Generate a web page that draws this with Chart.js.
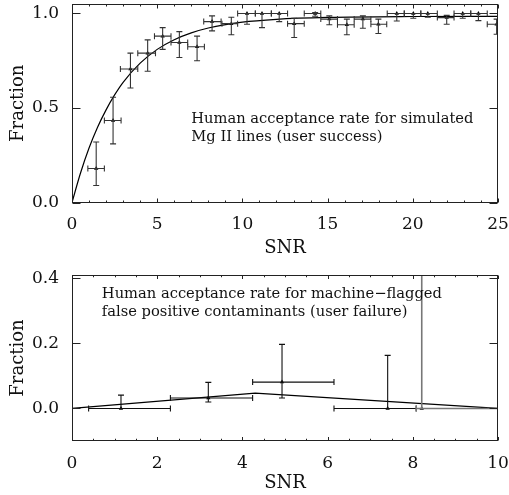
<!DOCTYPE html>
<html>
<head>
<meta charset="utf-8">
<script src="https://cdn.jsdelivr.net/npm/chart.js@4"></script>
<style>
    body { margin: 0; background: #fff; }
    #wrap { position: relative; width: 509px; height: 495px; }
    canvas { position: absolute; left: 0; }
</style>
</head>
<body>
<div id="wrap">
    <canvas id="topChart" width="509" height="260" style="top:0"></canvas>
    <canvas id="bottomChart" width="509" height="235" style="top:260px"></canvas>
</div>
<script>
// Painel de cima: simulated Mg II lines (user success)
const successSnr    = [1.42, 2.41, 3.43, 4.44, 5.32, 6.30, 7.34, 8.22, 9.35, 10.27, 11.15, 12.16, 13.04, 14.27, 15.10, 16.13, 17.07, 17.98, 19.06, 20.03, 20.88, 21.99, 22.93, 23.85, 24.92];
const successFrac   = [0.18, 0.434, 0.706, 0.79, 0.88, 0.846, 0.824, 0.957, 0.946, 1.0, 1.0, 1.0, 0.946, 1.0, 0.97, 0.94, 0.97, 0.943, 1.0, 1.0, 1.0, 0.978, 1.0, 1.0, 0.943];
const successSnrLo  = [0.93, 1.90, 2.84, 3.86, 4.84, 5.81, 6.79, 7.73, 8.80, 9.72, 10.76, 11.70, 12.65, 13.63, 14.60, 15.58, 16.56, 17.54, 18.50, 19.50, 20.47, 21.44, 22.42, 23.40, 24.37];
const successSnrHi  = [1.90, 2.88, 3.86, 4.90, 5.81, 6.79, 7.77, 8.75, 9.72, 10.76, 11.70, 12.65, 13.63, 14.60, 15.58, 16.56, 17.54, 18.47, 19.50, 20.47, 21.44, 22.42, 23.40, 24.37, 25.40];
const successFracLo = [0.09, 0.31, 0.606, 0.694, 0.81, 0.767, 0.75, 0.908, 0.887, 0.943, 0.925, 0.957, 0.873, 0.985, 0.94, 0.887, 0.922, 0.894, 0.96, 0.975, 0.98, 0.943, 0.975, 0.962, 0.89];
const successFracHi = [0.32, 0.557, 0.79, 0.86, 0.925, 0.904, 0.88, 0.987, 0.98, 1.0, 1.0, 1.0, 0.975, 1.005, 0.987, 0.97, 0.987, 0.97, 1.0, 1.0, 1.0, 0.99, 1.0, 1.0, 0.97];

// curva ajustada
const fitSnr  = [0, 0.5, 1, 1.5, 2, 2.5, 3, 4, 5, 6, 7, 8, 10, 12, 15, 20, 25];
const fitFrac = [0, 0.156, 0.288, 0.398, 0.49, 0.569, 0.636, 0.737, 0.81, 0.861, 0.897, 0.923, 0.954, 0.969, 0.979, 0.984, 0.985];

// Painel de baixo: machine-flagged false positives (user failure)
const contamSnr    = [1.15, 3.20, 4.93, 7.41, 8.21];
const contamFrac   = [0.0, 0.032, 0.081, 0.0, 0.0];
const contamSnrLo  = [0.39, 2.31, 4.24, 6.15, 8.08];
const contamSnrHi  = [2.31, 4.24, 6.15, 8.08, 10.3];
const contamFracLo = [0.0, 0.02, 0.032, 0.0, 0.0];
const contamFracHi = [0.041, 0.08, 0.197, 0.163, 1.0];

const modelSnr  = [0, 4.3, 10];
const modelFrac = [0, 0.047, 0];

// ticks
const topXTicks    = [0, 5, 10, 15, 20, 25];
const topYTicks    = [0, 0.5, 1.0];
const bottomXTicks = [0, 2, 4, 6, 8, 10];
const bottomYTicks = [0, 0.2, 0.4];

const FONT = "'DejaVu Serif', serif";
const INK = '#111';

const toPoints = (xs, ys) => xs.map((x, i) => ({ x: x, y: ys[i] }));

// caixa com ticks para dentro nos quatro lados (estilo IDL)
const boxTicks = {
    id: 'boxTicks',
    afterDraw(chart, args, o) {
        const { ctx, chartArea: a, scales: { x, y } } = chart;
        ctx.save();
        ctx.strokeStyle = '#222';
        ctx.lineWidth = 1;
        const L = Math.round(a.left) + 0.5, R = Math.round(a.right) - 0.5;
        const T = Math.round(a.top) + 0.5, B = Math.round(a.bottom) - 0.5;
        ctx.strokeRect(L, T, R - L, B - T);
        ctx.beginPath();
        const first = (min, step) => Math.ceil(min / step - 1e-6) * step;
        for (let v = first(x.min, o.xMinor); v <= x.max + 1e-6; v += o.xMinor) {
            const px = Math.round(x.getPixelForValue(v)) + 0.5;
            const major = Math.abs(v / o.xMajor - Math.round(v / o.xMajor)) < 1e-6;
            const len = major ? o.xLen : o.xLen / 2;
            ctx.moveTo(px, B); ctx.lineTo(px, B - len);
            ctx.moveTo(px, T); ctx.lineTo(px, T + len);
        }
        for (let v = first(y.min, o.yMinor); v <= y.max + 1e-6; v += o.yMinor) {
            const py = Math.round(y.getPixelForValue(v)) + 0.5;
            const major = Math.abs(v / o.yMajor - Math.round(v / o.yMajor)) < 1e-6;
            const len = major ? o.yLen : o.yLen / 2;
            ctx.moveTo(L, py); ctx.lineTo(L + len, py);
            ctx.moveTo(R, py); ctx.lineTo(R - len, py);
        }
        ctx.stroke();
        ctx.restore();
    }
};

const errorBars = {
    id: 'errorBars',
    afterDatasetsDraw(chart, args, o) {
        const { ctx, chartArea: a, scales: { x, y } } = chart;
        ctx.save();
        ctx.beginPath();
        ctx.rect(a.left, a.top, a.right - a.left, a.bottom - a.top);
        ctx.clip();
        const cap = 3;
        o.xs.forEach((xv, i) => {
            const gray = o.gray && o.gray.includes(i);
            ctx.strokeStyle = gray ? '#777' : o.color;
            ctx.lineWidth = gray ? 1.6 : 1.1;
            const px = x.getPixelForValue(xv), py = y.getPixelForValue(o.ys[i]);
            const x0 = x.getPixelForValue(o.xLo[i]), x1 = Math.min(x.getPixelForValue(o.xHi[i]), a.right + 4);
            const y0 = y.getPixelForValue(o.yLo[i]), y1 = Math.max(y.getPixelForValue(o.yHi[i]), a.top - 4);
            ctx.beginPath();
            ctx.moveTo(x0, py); ctx.lineTo(x1, py);
            ctx.moveTo(x0, py - cap); ctx.lineTo(x0, py + cap);
            ctx.moveTo(x1, py - cap); ctx.lineTo(x1, py + cap);
            ctx.moveTo(px, y0); ctx.lineTo(px, y1);
            ctx.moveTo(px - cap, y0); ctx.lineTo(px + cap, y0);
            ctx.moveTo(px - cap, y1); ctx.lineTo(px + cap, y1);
            ctx.stroke();
        });
        ctx.restore();
    }
};

const note = {
    id: 'note',
    afterDraw(chart, args, o) {
        const { ctx, scales: { x, y } } = chart;
        ctx.save();
        ctx.font = o.font;
        ctx.fillStyle = INK;
        ctx.textBaseline = 'alphabetic';
        const px = x.getPixelForValue(o.x), py = y.getPixelForValue(o.y);
        o.lines.forEach((t, i) => ctx.fillText(t, px, py + i * o.lineStep));
        ctx.restore();
    }
};

function makeChart(id, cfg) {
    return new Chart(document.getElementById(id), {
        type: 'scatter',
        data: { datasets: cfg.datasets },
        options: {
            responsive: false,
            animation: false,
            layout: { padding: { left: 0, right: 11, top: cfg.padTop, bottom: 0 } },
            plugins: {
                legend: { display: false },
                tooltip: { enabled: false },
                boxTicks: cfg.box,
                errorBars: cfg.err,
                note: cfg.note
            },
            scales: {
                x: {
                    type: 'linear', min: cfg.xMin, max: cfg.xMax,
                    grid: { display: false }, border: { display: false },
                    afterBuildTicks: s => { s.ticks = cfg.xTicks.map(v => ({ value: v })); },
                    afterFit: s => { s.height = cfg.xHeight; s.paddingLeft = 0; s.paddingRight = 0; },
                    ticks: {
                        color: INK, font: { family: FONT, size: 17 }, padding: 4,
                        maxRotation: 0, autoSkip: false,
                        callback: v => String(v)
                    },
                    title: {
                        display: true, text: 'SNR', color: INK,
                        font: { family: FONT, size: 18 }, padding: { top: 0, bottom: 1 }
                    }
                },
                y: {
                    type: 'linear', min: cfg.yMin, max: cfg.yMax,
                    grid: { display: false }, border: { display: false },
                    afterBuildTicks: s => { s.ticks = cfg.yTicks.map(v => ({ value: v })); },
                    afterFit: s => { s.width = 72; s.paddingTop = 0; s.paddingBottom = 0; },
                    ticks: {
                        color: INK, font: { family: FONT, size: 17 }, padding: 5,
                        callback: v => v.toFixed(1)
                    },
                    title: {
                        display: true, text: 'Fraction', color: INK,
                        font: { family: FONT, size: 18 }, padding: { top: 8, bottom: 0 }
                    }
                }
            }
        },
        plugins: [errorBars, boxTicks, note]
    });
}

makeChart('topChart', {
    padTop: 4, xHeight: 57.5,
    xMin: 0, xMax: 25, yMin: 0, yMax: 1.05,
    xTicks: topXTicks, yTicks: topYTicks,
    datasets: [
        {
            data: toPoints(fitSnr, fitFrac), showLine: true, pointRadius: 0,
            borderColor: '#000', borderWidth: 1.2, cubicInterpolationMode: 'monotone'
        },
        {
            data: toPoints(successSnr, successFrac), pointStyle: 'triangle',
            pointRadius: 2.5, backgroundColor: '#000', borderWidth: 0
        }
    ],
    err: { xs: successSnr, ys: successFrac, xLo: successSnrLo, xHi: successSnrHi,
           yLo: successFracLo, yHi: successFracHi, color: '#333' },
    box: { xMajor: 5, xMinor: 1, xLen: 4, yMajor: 0.5, yMinor: 0.5, yLen: 8 },
    note: { x: 7, y: 0.42, lineStep: 18, font: "14.7px " + FONT,
            lines: ['Human acceptance rate for simulated', 'Mg II lines (user success)'] }
});

makeChart('bottomChart', {
    padTop: 15, xHeight: 54,
    xMin: 0, xMax: 10, yMin: -0.1, yMax: 0.41,
    xTicks: bottomXTicks, yTicks: bottomYTicks,
    datasets: [
        {
            data: toPoints(modelSnr, modelFrac), showLine: true, pointRadius: 0,
            borderColor: '#000', borderWidth: 1.2
        },
        {
            data: toPoints(contamSnr, contamFrac), pointStyle: 'triangle',
            pointRadius: 2.5, backgroundColor: '#000', borderWidth: 0
        }
    ],
    err: { xs: contamSnr, ys: contamFrac, xLo: contamSnrLo, xHi: contamSnrHi,
           yLo: contamFracLo, yHi: contamFracHi, color: '#111', gray: [4] },
    box: { xMajor: 2, xMinor: 0.5, xLen: 3.5, yMajor: 0.2, yMinor: 0.2, yLen: 8 },
    note: { x: 0.7, y: 0.338, lineStep: 18, font: "14.7px " + FONT,
            lines: ['Human acceptance rate for machine\u2212flagged', 'false positive contaminants (user failure)'] }
});
</script>
</body>
</html>
